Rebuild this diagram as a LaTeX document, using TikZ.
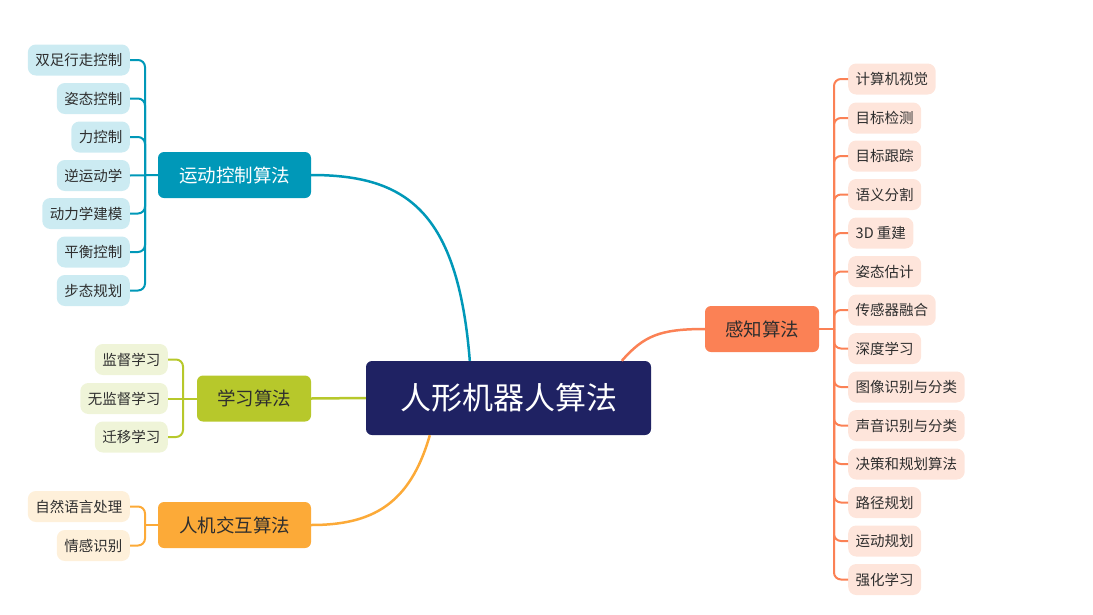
\documentclass[tikz,border=0pt]{standalone}
\usepackage{fontspec}
\setmainfont{Noto Sans CJK SC}
\usetikzlibrary{calc}
\definecolor{cRoot}{HTML}{1F2263}
\definecolor{cMot}{HTML}{0098B8}
\definecolor{cMotL}{HTML}{CCEBF2}
\definecolor{cLrn}{HTML}{B7C82B}
\definecolor{cLrnL}{HTML}{EFF4D8}
\definecolor{cHci}{HTML}{FCAA38}
\definecolor{cHciL}{HTML}{FEF0DA}
\definecolor{cPer}{HTML}{FB8155}
\definecolor{cPerL}{HTML}{FEE5DB}
\definecolor{cTxt}{HTML}{2E2E2E}
\begin{document}
\begin{tikzpicture}[x=1pt,y=-1pt,
  rootbox/.style={rectangle, rounded corners=6, fill=cRoot, text=white, minimum width=285, minimum height=74, inner sep=0, font=\fontsize{31}{31}\selectfont},
  mainbox/.style={rectangle, rounded corners=6, minimum height=46, inner sep=0, font=\fontsize{18.5}{18.5}\selectfont, text=cTxt},
  leafbox/.style={rectangle, rounded corners=8, minimum height=31, inner xsep=7.5, inner ysep=0, font=\fontsize{14.5}{14.5}\selectfont, text=cTxt},
  mleaf/.style={leafbox, fill=cMotL, anchor=east},
  lleaf/.style={leafbox, fill=cLrnL, anchor=east},
  hleaf/.style={leafbox, fill=cHciL, anchor=east},
  pleaf/.style={leafbox, fill=cPerL, anchor=west},
  branch/.style={line width=2.5pt},
  bracket/.style={line width=2pt, rounded corners=7},
  stub/.style={line width=2pt},
]
\path[use as bounding box] (0,0) rectangle (1093,614);

% root
\node[rootbox] (root) at (508.5,398) {人形机器人算法};

% main branches
\node[mainbox, fill=cMot, text=white, minimum width=153] (mot) at (234.5,175) {运动控制算法};
\node[mainbox, fill=cLrn, minimum width=114] (lrn) at (254,398.5) {学习算法};
\node[mainbox, fill=cHci, minimum width=153] (hci) at (234.5,525) {人机交互算法};
\node[mainbox, fill=cPer, minimum width=114] (per) at (762,329) {感知算法};

% root connectors
\coordinate (rm) at ($(root.north west)+(104,0)$);
\coordinate (rh) at ($(root.south west)+(64,0)$);
\coordinate (rp) at ($(root.north west)+(256,0)$);
\draw[branch, cMot] (rm) .. controls ($(rm)+(-12,-150)$) and ($(mot.east)+(95,0)$) .. (mot.east);
\draw[branch, cLrn] (root.west) -- (lrn.east);
\draw[branch, cHci] (rh) .. controls ($(rh)+(-20,70)$) and ($(hci.east)+(60,0)$) .. (hci.east);
\draw[branch, cPer] (rp) .. controls ($(rp)+(22,-25)$) and ($(per.west)+(-45,0)$) .. (per.west);

% motion leaves
\node[mleaf] (m1) at (130,60) {双足行走控制};
\node[mleaf] (m2) at (130,98.5) {姿态控制};
\node[mleaf] (m3) at (130,137) {力控制};
\node[mleaf] (m4) at (130,175.5) {逆运动学};
\node[mleaf] (m5) at (130,213.5) {动力学建模};
\node[mleaf] (m6) at (130,252) {平衡控制};
\node[mleaf] (m7) at (130,290.5) {步态规划};
\coordinate (mj) at (mot.west -| 145,0);
\foreach \n in {m1,m2,m3,m5,m6,m7}{
  \draw[bracket, cMot] (\n.east) -- (\n.east -| 145,0) -- (mj);
}
\draw[stub, cMot] (m4.east) -- (mot.west);

% learning leaves
\node[lleaf] (l1) at (168,359.5) {监督学习};
\node[lleaf] (l2) at (168,398.5) {无监督学习};
\node[lleaf] (l3) at (168,437) {迁移学习};
\coordinate (lj) at (lrn.west -| 183,0);
\foreach \n in {l1,l3}{
  \draw[bracket, cLrn] (\n.east) -- (\n.east -| 183,0) -- (lj);
}
\draw[stub, cLrn] (l2.east) -- (lrn.west);

% hci leaves
\node[hleaf] (h1) at (130,506.5) {自然语言处理};
\node[hleaf] (h2) at (130,545.5) {情感识别};
\coordinate (hj) at (hci.west -| 145,0);
\foreach \n in {h1,h2}{
  \draw[bracket, cHci] (\n.east) -- (\n.east -| 145,0) -- (hj);
}
\draw[stub, cHci] (hj) -- (hci.west);

% perception leaves
\node[pleaf] (p1) at (848,79) {计算机视觉};
\node[pleaf] (p2) at (848,118) {目标检测};
\node[pleaf] (p3) at (848,156) {目标跟踪};
\node[pleaf] (p4) at (848,194.5) {语义分割};
\node[pleaf] (p5) at (848,233) {3D 重建};
\node[pleaf] (p6) at (848,271.5) {姿态估计};
\node[pleaf] (p7) at (848,310) {传感器融合};
\node[pleaf] (p8) at (848,348.5) {深度学习};
\node[pleaf] (p9) at (848,387) {图像识别与分类};
\node[pleaf] (p10) at (848,425.5) {声音识别与分类};
\node[pleaf] (p11) at (848,464) {决策和规划算法};
\node[pleaf] (p12) at (848,502.5) {路径规划};
\node[pleaf] (p13) at (848,541) {运动规划};
\node[pleaf] (p14) at (848,579.5) {强化学习};
\coordinate (pj) at (per.east -| 834,0);
\foreach \n in {p1,p2,p3,p4,p5,p6,p7,p8,p9,p10,p11,p12,p13,p14}{
  \draw[bracket, cPer] (\n.west) -- (\n.west -| 834,0) -- (pj);
}
\draw[stub, cPer] (pj) -- (per.east);
\end{tikzpicture}
\end{document}
